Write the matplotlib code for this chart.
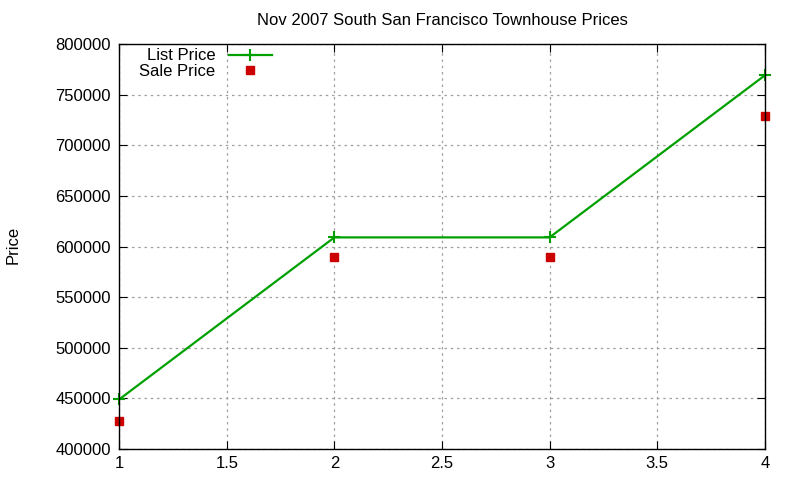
import matplotlib
matplotlib.use("Agg")
import matplotlib.pyplot as plt

plt.rcParams["font.family"] = ["Liberation Sans", "DejaVu Sans"]

bedrooms = [1, 2, 3, 4]
list_price = [449000, 609000, 609000, 769000]
sale_price = [428000, 590000, 590000, 729000]

fig = plt.figure(figsize=(8, 4.8), dpi=100)
ax = fig.add_axes([0.149, 0.0646, 0.807, 0.8437])

ax.plot(bedrooms, list_price, color="#00a000", lw=1.6, marker="+",
        markersize=8, markeredgewidth=1.5, label="List Price", clip_on=False)
ax.plot(bedrooms, sale_price, ls="none", color="#cc0000", marker="s",
        markersize=6, label="Sale Price", clip_on=False)

ax.set_xlim(1, 4)
ax.set_ylim(400000, 800000)
ax.set_xticks([1, 1.5, 2, 2.5, 3, 3.5, 4])
ax.set_xticklabels(["1", "1.5", "2", "2.5", "3", "3.5", "4"])
ax.set_yticks(range(400000, 800001, 50000))
ax.tick_params(direction="in", top=True, right=True, labelsize=12, length=6)
ax.tick_params(axis="y", pad=6)
ax.tick_params(axis="x", pad=5)
ax.grid(True, color="#a0a0a0", linestyle=(0, (2, 3)), linewidth=0.9)
for s in ax.spines.values():
    s.set_linewidth(1.0)

ax.set_title("Nov 2007 South San Francisco Townhouse Prices", fontsize=12, pad=14)
fig.text(0.016, 0.49, "Price", rotation=90, fontsize=12, va="center", ha="center")

ax.legend(loc="upper left", bbox_to_anchor=(0.013, 1.018), frameon=False,
          markerfirst=False, fontsize=12, handlelength=2.6, labelspacing=0.05,
          borderaxespad=0.3)

fig.savefig("out.png", dpi=100)
